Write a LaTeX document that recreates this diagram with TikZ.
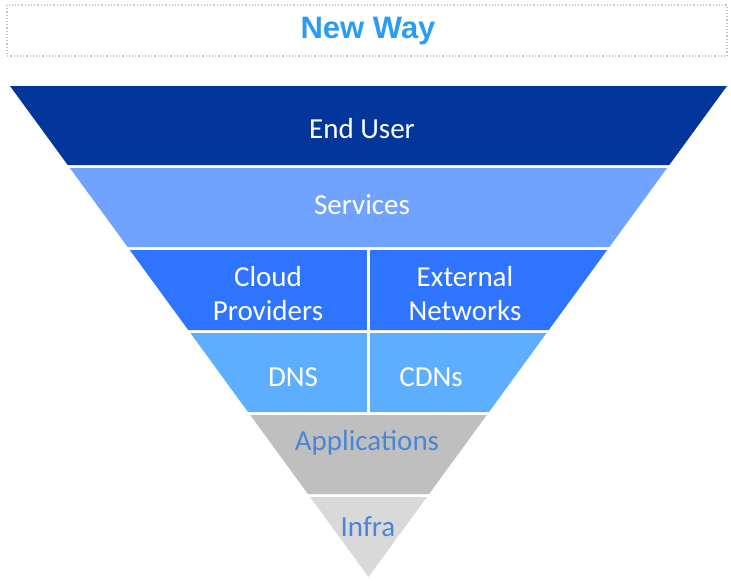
\documentclass[tikz,border=0pt]{standalone}
\usepackage{fontspec}
\setmainfont{Carlito}
\newfontfamily\titlefont{Liberation Sans}
\definecolor{cEnd}{HTML}{03369A}
\definecolor{cServ}{HTML}{6FA3FF}
\definecolor{cCloud}{HTML}{2E74FF}
\definecolor{cDns}{HTML}{5EAEFF}
\definecolor{cApp}{HTML}{BFBFBF}
\definecolor{cInfra}{HTML}{D9D9D9}
\definecolor{cTitle}{HTML}{2C9CF2}
\definecolor{cBlueText}{HTML}{4A86D8}
\definecolor{cDot}{HTML}{C4C4C4}
\tikzset{
  lbl/.style={font=\fontsize{29}{34}\selectfont, text=white, align=center, inner sep=0pt},
  lblb/.style={lbl, text=cBlueText},
  sep/.style={white, line width=3pt},
}
\begin{document}
\begin{tikzpicture}[x=1pt,y=-1pt]
\useasboundingbox (0,0) rectangle (731,581);
% title
\draw[cDot, line width=1.2pt, dotted] (7,5) rectangle (727,56);
\node[font=\titlefont\bfseries\fontsize{31}{33}\selectfont, text=cTitle, inner sep=0pt] (title) at (368,31) {New Way};
% bands
\fill[cEnd]   (10,86) -- (727,86) -- (669.3,165) -- (67.7,165) -- cycle;
\fill[cServ]  (69.9,168) -- (667.1,168) -- (609.4,247) -- (127.6,247) -- cycle;
\fill[cCloud] (129.8,250) -- (607.2,250) -- (548.8,330) -- (188.2,330) -- cycle;
\fill[cDns]   (190.4,333) -- (546.6,333) -- (489,412) -- (248,412) -- cycle;
\fill[cApp]   (250.2,415) -- (486.8,415) -- (429.1,494) -- (307.9,494) -- cycle;
\fill[cInfra] (310.1,497) -- (426.9,497) -- (368.5,577) -- cycle;
% divider
\coordinate (dtop) at (368,250);
\coordinate (dbot) at (368,412);
\draw[sep] (dtop) -- (dbot);
% labels
\node[lbl] (enduser) at (362,129) {End User};
\node[lbl] (services) at (362,205) {Services};
\node[lbl] (cloud) at (268,294) {Cloud\\Providers};
\node[lbl] (external) at (465,294) {External\\Networks};
\node[lbl] (dns) at (293,377) {DNS};
\node[lbl] (cdns) at (431,377) {CDNs};
\node[lblb] (apps) at (367,443) {Applications};
\node[lblb] (infra) at (368,527) {Infra};
\end{tikzpicture}
\end{document}
